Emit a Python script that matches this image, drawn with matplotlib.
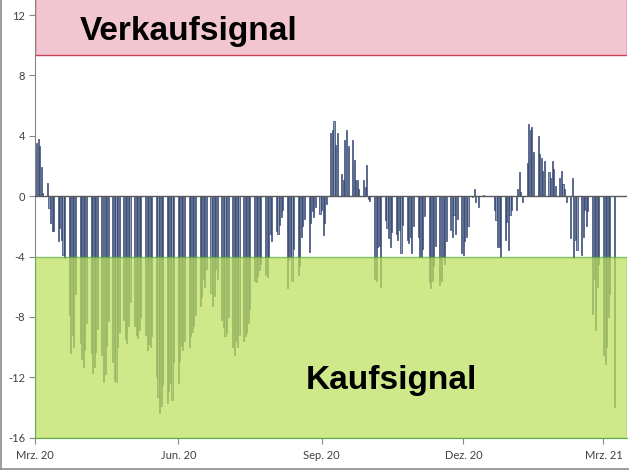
import numpy as np
import pandas as pd
import matplotlib
matplotlib.use("Agg")
import matplotlib.pyplot as plt
import matplotlib.transforms as mtransforms
from matplotlib.lines import Line2D

plt.rcParams['axes.unicode_minus'] = False

# Signalwerte je Handelstag, eine Zeile = eine Woche (Mo-Fr)
werte_mrz_mai_20 = [
    3.5, 3.8, 3.3, 1.9, 0.2,
    0.85, -0.8, -1.8, -2.3, -2.3,
    -3.0, -2.1, -2.9, -3.9, -4.1,
    -7.9, -10.4, -9.2, -10.0, -6.5,
    -9.7, -10.8, -11.3, -10.2, -8.4,
    -10.4, -11.7, -11.3, -10.3, -8.8,
    -10.5, -12.3, -11.8, -9.9, -8.3,
    -11.0, -12.2, -12.3, -10.0, -9.0,
    -8.2, -9.5, -9.7, -8.6, -7.0,
    -8.6, -9.2, -9.4, -8.9, -8.0,
    -9.2, -10.2, -9.8, -10.0, -9.3,
    -12.0, -13.3, -14.4, -13.9, -12.5,
    -13.7, -12.9, -12.4, -13.5, -11.0,
]
werte_jun_aug_20 = [
    -12.4, -10.9, -9.9, -10.2, -9.6,
    -10.0, -9.3, -9.0, -8.6, -7.9,
    -7.3, -6.7, -5.5, -6.0, -4.8,
    -6.4, -7.3, -6.6, -4.8, -5.5,
    -8.2, -8.7, -9.3, -9.1, -8.0,
    -10.0, -10.5, -9.6, -10.0, -9.2,
    -9.6, -9.3, -9.1, -8.4, -7.5,
    -5.6, -5.7, -5.3, -4.9, -4.5,
    -5.25, -5.35, -4.0, -2.5, -3.0,
    -2.3, -2.5, -1.9, -1.4, -0.9,
    -6.1, -4.2, -4.0, -5.6, -3.5,
    -5.2, -4.6, -2.7, -2.0, -1.5,
    -3.7, -1.8, -1.0, -1.4, -0.7,
]
werte_sep_nov_20 = [
    -1.15, -0.9, -2.6, -1.8, -0.5,
    4.2, 4.4, 5.0, 3.4, 4.2,
    1.5, 1.05, 3.7, 4.4, 3.3,
    3.75, 2.4, 1.05, 1.1, 0.5,
    1.05, 0.6, 2.05, -0.2, -0.3,
    -5.5, -5.6, -3.4, -3.3, -6.0,
    -1.6, -2.1, -2.8, -3.35, -2.4,
    -2.5, -2.9, -2.25, -3.8, -1.9,
    -2.9, -3.1, -2.7, -3.8, -2.0,
    -2.7, -4.0, -4.0, -3.5, -1.3,
    -5.7, -6.1, -5.6, -4.6, -3.3,
    -5.9, -5.6, -4.0, -4.5, -3.0,
    -2.25, -2.7, -1.25, -2.5, -1.5,
]
werte_dez_20_mrz_21 = [
    -3.8, -3.9, -3.0, -2.7, -2.0,
    -0.05, 0.45, -0.4, 0.0, -0.7,
    0.05, 0.0, 0.0, 0.0, 0.0,
    -0.9, -1.6, -3.35, -3.4, -4.0,
    -2.9, -1.7, -3.6, -1.25, -0.9,
    -0.9, 0.5, 1.6, 0.3, -0.4,
    2.2, 4.8, 4.4, 4.6, 2.9,
    4.0, 2.8, 2.5, 1.7, 2.3,
    1.6, 1.2, 2.3, 1.8, 0.7,
    1.2, 1.7, 0.8, 0.5, -0.4,
    -2.8, 1.2, -4.1, -2.9, -3.6,
    -3.9, -2.7, -0.9, -2.0, -1.0,
    -7.8, -5.5, -8.9, -6.0, -4.5,
    -10.5, -11.1, -10.0, -8.0, -6.5,
    -14.0,
]

werte = werte_mrz_mai_20 + werte_jun_aug_20 + werte_sep_nov_20 + werte_dez_20_mrz_21
tage = pd.bdate_range('2020-03-02', periods=len(werte))

tick_daten = ['2020-03-01', '2020-06-01', '2020-09-01', '2020-12-01', '2021-03-01']
tick_texte = ['Mrz. 20', 'Jun. 20', 'Sep. 20', 'Dez. 20', 'Mrz. 21']
y_ticks = [-16, -12, -8, -4, 0, 4, 8, 12]

fig = plt.figure(figsize=(6.29, 4.70), dpi=100)
ax = fig.add_axes([0.0556, 0.069, 0.941, 0.931])

ax.bar(tage, werte, width=0.7, color='#8c9cb8', edgecolor='#1f3262',
       linewidth=0.45, zorder=2)

# Signalzonen
ax.axhspan(9.35, 13.5, facecolor='#f2c6d0', edgecolor='#c8405a',
           linewidth=1.0, zorder=1)
ax.axhspan(-16, -4, facecolor='#bde05c', edgecolor='#5aae3c',
           linewidth=1.0, alpha=0.72, zorder=3)
ax.axhline(0, color='#5a5a5a', linewidth=1.0, zorder=4)

ax.set_ylim(-16, 13)
ax.set_xlim(pd.Timestamp('2020-03-01'), pd.Timestamp('2021-03-16'))
ax.set_yticks(y_ticks)
ax.set_yticklabels([str(v) for v in y_ticks])
ax.set_xticks([pd.Timestamp(d) for d in tick_daten])
ax.set_xticklabels(tick_texte)

for s in ['top', 'right']:
    ax.spines[s].set_visible(False)
ax.spines['left'].set_color('#868686')
ax.spines['bottom'].set_color('#5aae3c')
ax.tick_params(axis='both', colors='#868686', labelcolor='#404040',
               labelsize=8, length=4, width=0.8)
ax.tick_params(axis='x', pad=5)
ax.tick_params(axis='y', pad=3)
for lab in ax.get_xticklabels() + ax.get_yticklabels():
    lab.set_family('Lato')

trans = mtransforms.blended_transform_factory(ax.transAxes, ax.transData)
ax.text(0.076, 10.34, 'Verkaufsignal', transform=trans, fontsize=24,
        fontweight='bold', family='Liberation Sans', color='black',
        va='baseline', ha='left', zorder=5)
ax.text(0.458, -12.75, 'Kaufsignal', transform=trans, fontsize=24,
        fontweight='bold', family='Liberation Sans', color='black',
        va='baseline', ha='left', zorder=5)

# Rahmen des Diagrammbereichs
fig.add_artist(Line2D([0.001, 0.001], [0.0, 1.0], color='#8c8c8c', lw=1.2,
                      transform=fig.transFigure))
fig.add_artist(Line2D([0.0, 1.0], [0.003, 0.003], color='#8c8c8c', lw=1.2,
                      transform=fig.transFigure))

fig.savefig('out.png', dpi=100)
